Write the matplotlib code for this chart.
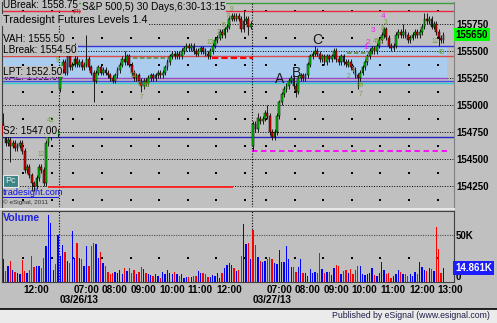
import matplotlib
import matplotlib.pyplot as plt
import numpy as np
from matplotlib.lines import Line2D
from matplotlib.patches import Rectangle

matplotlib.use('Agg')
plt.rcParams['font.family'] = ['Liberation Sans', 'DejaVu Sans']

W_PX, H_PX = 497, 323
BG = '#c0c0c0'

# sessions: 03/25 (partial), 03/26 and 03/27, 5 minute bars
DATES = ['03/25/13', '03/26/13', '03/27/13']
SESSION_START = [11.25, 6.5, 6.5]
SESSION_OPEN = [1548.25, 1551.50, 1546.25]
HOUR_LABELS = [[12], [7, 8, 9, 10, 11, 12], [7, 8, 9, 10, 11, 12, 13]]
DOT_HOURS = [[12, 13], [7, 8, 9, 10, 11, 12, 13], [7, 8, 9, 10, 11, 12, 13]]

CLOSE_0325 = [1547.25, 1546.50, 1546.75, 1546.25, 1546.50, 1546.00, 1546.25, 1546.50,
              1545.75, 1544.00, 1544.25, 1543.50, 1542.75, 1542.50, 1543.25, 1544.25,
              1544.00, 1542.75, 1546.50, 1547.00, 1547.25, 1547.50, 1547.25, 1547.50]
CLOSE_0326 = [1553.25, 1554.00, 1553.00, 1554.50, 1553.50, 1553.75, 1554.25, 1553.75,
              1554.00, 1553.50, 1553.75, 1554.25, 1553.50, 1553.00, 1552.25, 1553.00,
              1553.50, 1553.00, 1553.25, 1553.00, 1552.75, 1552.50, 1552.25, 1552.75,
              1553.25, 1553.75, 1554.25, 1554.00, 1554.50, 1553.75, 1553.00, 1552.50,
              1552.75, 1552.25, 1551.75, 1552.25, 1552.00, 1552.50, 1552.75, 1552.50,
              1552.75, 1553.00, 1552.75, 1553.00, 1553.50, 1554.00, 1554.50, 1554.75,
              1554.50, 1554.75, 1554.50, 1555.00, 1555.25, 1555.50, 1555.25, 1555.50,
              1555.00, 1554.75, 1555.00, 1555.25, 1555.00, 1554.75, 1554.50, 1555.00,
              1555.50, 1556.00, 1556.25, 1556.75, 1556.50, 1557.00, 1557.25, 1558.00,
              1558.25, 1558.00, 1558.25, 1558.00, 1557.00, 1557.75, 1558.00, 1557.25,
              1557.50]
CLOSE_0327 = [1548.25, 1547.75, 1548.75, 1548.50, 1548.75, 1549.25, 1549.00, 1547.50,
              1547.00, 1547.50, 1549.00, 1550.25, 1551.00, 1551.50, 1551.75, 1552.25,
              1552.50, 1551.75, 1551.25, 1552.50, 1552.75, 1552.50, 1552.75, 1553.75,
              1554.50, 1554.75, 1555.00, 1554.75, 1554.25, 1554.50, 1554.00, 1554.50,
              1554.25, 1554.50, 1555.00, 1554.25, 1554.00, 1554.50, 1554.00, 1553.75,
              1554.00, 1553.50, 1553.25, 1552.75, 1552.50, 1553.00, 1553.50, 1554.00,
              1554.50, 1555.00, 1555.25, 1555.00, 1555.50, 1556.00, 1556.50, 1557.00,
              1556.25, 1555.50, 1555.25, 1555.50, 1556.50, 1556.75, 1556.50, 1556.75,
              1556.50, 1556.00, 1556.25, 1556.50, 1556.75, 1556.50, 1556.75, 1557.25,
              1558.00, 1557.75, 1558.00, 1557.25, 1557.50, 1556.75, 1556.25, 1556.00,
              1556.50]
# wick extremes that stick out further than usual (bar index -> price)
HIGH_WICKS = {0: 1549.25, 30: 1555.75, 35: 1556.50, 51: 1555.00, 97: 1558.50, 101: 1558.75,
              107: 1549.25, 111: 1550.00, 131: 1555.50, 160: 1557.25, 168: 1557.50,
              177: 1558.50, 178: 1558.50, 180: 1558.25}
LOW_WICKS = {3: 1544.75, 12: 1542.00, 13: 1542.00, 38: 1550.25, 58: 1551.25, 103: 1556.50,
             105: 1545.75, 113: 1546.75, 123: 1550.75, 149: 1551.50, 183: 1555.50}

# volume in thousands
VOL_0325 = [24, 12, 17, 22, 13, 11, 10, 8, 23, 12, 10, 13, 28, 16, 17, 17, 15, 26, 38, 71,
            63, 13, 19, 50]
VOL_0326 = [28, 39, 32, 22, 20, 54, 25, 41, 25, 24, 17, 38, 17, 38, 41, 40, 25, 32, 20, 17,
            11, 8, 10, 11, 10, 13, 8, 15, 12, 15, 10, 13, 8, 11, 16, 14, 10, 8, 7, 6,
            8, 6, 4, 11, 8, 13, 10, 8, 11, 8, 6, 8, 4, 5, 5, 5, 6, 6, 12, 10,
            10, 8, 5, 5, 7, 6, 10, 4, 10, 15, 18, 20, 18, 15, 12, 13, 28, 62, 40, 41, 24]
VOL_0327 = [55, 39, 27, 22, 21, 22, 24, 27, 24, 20, 19, 34, 21, 21, 38, 24, 16, 16, 11, 16,
            24, 10, 10, 6, 14, 10, 11, 10, 31, 14, 10, 11, 11, 7, 15, 18, 17, 8, 12, 13,
            10, 14, 8, 13, 17, 17, 8, 7, 8, 10, 15, 7, 6, 10, 21, 13, 8, 10, 4, 6,
            8, 13, 11, 8, 9, 6, 8, 6, 11, 9, 21, 16, 13, 12, 15, 14, 12, 58, 35, 10, 14.861]

PRICE_TICKS = [1542.5, 1545.0, 1547.5, 1550.0, 1552.5, 1555.0, 1557.5]
MINOR_PRICES = [1541.25, 1543.75, 1546.25, 1548.75, 1551.25, 1553.75, 1556.25, 1558.75]

LEVEL_NAMES = ['UBreak', 'VAH', 'LBreak', 'VAL', 'LPT', 'S2']
LEVEL_VALUES = [1558.75, 1555.50, 1554.50, 1552.00, 1552.50, 1547.00]
LEVEL_COLORS = ['#e8283c', '#3434d8', '#e04848', '#30d0d0', '#9848c8', '#2424c0']

# setup counts (text, bar, price)
TD_GREEN = [('12', 15.9, 1545.4), ('4', 18.4, 1546.8), ('43', 20.1, 1548.6), ('9', 23.0, 1554.1),
            ('12', 54.5, 1552.7), ('6', 57.1, 1551.9), ('7', 58.3, 1550.7), ('89', 60.0, 1551.8),
            ('13', 86.9, 1555.8), ('3', 90.7, 1556.7), ('5', 92.4, 1557.4), ('8', 94.9, 1558.2),
            ('9', 96.1, 1558.8), ('2', 144.9, 1552.6), ('4', 147.0, 1553.15), ('89', 150.2, 1551.85),
            ('7', 150.0, 1550.95), ('1', 152.4, 1554.2), ('453', 157.5, 1555.85),
            ('8', 159.6, 1557.1), ('3', 160.8, 1557.6), ('12', 181.4, 1555.85), ('48', 184.0, 1554.9)]
TD_MAGENTA = [('1', 152.4, 1555.28), ('2', 153.3, 1555.83), ('3', 155.4, 1556.94), ('4', 159.6, 1558.24)]
WAVE_LABELS = [('A', 116.3, 1552.41), ('B', 123.4, 1552.96), ('C', 131.9, 1556.02)]


def fig_rect(x0, y0, x1, y1):
    return [x0 / W_PX, 1 - y1 / H_PX, (x1 - x0) / W_PX, (y1 - y0) / H_PX]


def fig_text(x, y, s, **kw):
    return fig.text(x / W_PX, 1 - y / H_PX, s, **kw)


closes = np.array(CLOSE_0325 + CLOSE_0326 + CLOSE_0327)
vols = np.array(VOL_0325 + VOL_0326 + VOL_0327, dtype=float)
day_len = [len(CLOSE_0325), len(CLOSE_0326), len(CLOSE_0327)]
starts = np.cumsum([0] + day_len[:-1])
n = len(closes)
x = np.arange(n)

opens = np.r_[closes[0], closes[:-1]]
for k, s in enumerate(starts):
    opens[s] = SESSION_OPEN[k]
highs = np.maximum(opens, closes) + 0.25
lows = np.minimum(opens, closes) - 0.25
for i, v in HIGH_WICKS.items():
    highs[i] = v
for i, v in LOW_WICKS.items():
    lows[i] = v

fig = plt.figure(figsize=(W_PX / 100, H_PX / 100), dpi=100, facecolor=BG)
ax = fig.add_axes(fig_rect(2, 2, 454, 207))
axv = fig.add_axes(fig_rect(2, 211, 454, 282), sharex=ax)

bar_px = 2.38
x_right = (454 - 2) / bar_px - 0.5
band_end = (447 - 2) / bar_px - 0.5
ax.set_xlim(-0.5, x_right)
ax.set_ylim(1557.5 - 183 / 10.8, 1557.5 + 22 / 10.8)
for a in (ax, axv):
    a.set_facecolor(BG)

# value area band and level lines
ax.fill_between([-0.5, band_end], 1552.5, 1555.5, color='#aaccee', lw=0, zorder=1)
ax.axhline(1559.45, color='#3c9c3c', lw=1, zorder=2)
for name, val, col in zip(LEVEL_NAMES, LEVEL_VALUES, LEVEL_COLORS):
    if name == 'LPT':
        ax.hlines(val, -0.5, band_end, color=col, lw=1, zorder=2)
    else:
        ax.axhline(val, color=col, lw=1, zorder=2)
ax.axhline(1552.25, color='#4848e8', lw=1, zorder=2)

for p in PRICE_TICKS:
    ax.axhline(p, color='black', lw=0.7, ls=(0, (1, 1.6)), zorder=1.5)
dot_x = [starts[k] + (h - SESSION_START[k]) * 12 - 0.5 for k in range(3) for h in DOT_HOURS[k]]
gx, gy = np.meshgrid(dot_x, MINOR_PRICES)
ax.scatter(gx.ravel(), gy.ravel(), s=0.8, marker='s', color='black', lw=0, zorder=1.5)

# drawn trade lines
ax.hlines(1542.4, (48 - 2) / bar_px - 0.5, (233 - 2) / bar_px - 0.5, color='#ff1e1e', lw=1.3, zorder=3)
ax.hlines(1545.75, starts[2] - 0.5, band_end, color='#ff00ff', lw=1.3, ls=(0, (3, 2)), zorder=3)
ax.hlines(1554.35, 87.7, starts[2], color='#ff0000', lw=1.5, ls=(0, (3, 1.5)), zorder=3)
ax.hlines(1554.35, 54.5, 70.1, color='#5a8a30', lw=1.1, ls=(0, (3, 1.5)), zorder=3)
ax.hlines(1554.8, 144.5, 155.0, color='#5a8a30', lw=1.1, ls=(0, (3, 1.5)), zorder=3)

for a in (ax, axv):
    for s in starts[1:]:
        a.axvline(s - 0.5, color='black', lw=0.8, ls=(0, (1, 1.5)), zorder=2.5)

# candles
up = closes >= opens
body = np.where(closes == opens, 0.06, closes - opens)
ax.vlines(x, lows, highs, color='black', lw=0.6, zorder=4)
ax.bar(x, body, bottom=opens, width=0.75, color=np.where(up, '#00c400', '#e00000'),
       edgecolor='black', linewidth=0.35, zorder=5)

for s, bx, p in TD_GREEN:
    ax.text(bx, p, s, color='#74a436', fontsize=4.8, ha='center', va='center', zorder=6)
for s, bx, p in TD_MAGENTA:
    ax.text(bx, p, s, color='#f020f0', fontsize=6, ha='center', va='center', zorder=6)
for s, bx, p in WAVE_LABELS:
    ax.text(bx, p, s, color='#1a1a1a', fontsize=10, ha='center', va='center', zorder=6)

# level labels sit just above their lines
for name, val in zip(LEVEL_NAMES, LEVEL_VALUES):
    ax.annotate(f'{name}: {val:.2f}', xy=(0, val), xycoords=('axes fraction', 'data'),
                xytext=(1, 1.0), textcoords='offset points', ha='left', va='bottom',
                fontsize=7.2, zorder=1.8 if name == 'VAL' else 7,
                bbox=dict(boxstyle='square,pad=0.05', fc=BG, ec='none'))

# right price scale
ax.yaxis.tick_right()
ax.set_yticks(PRICE_TICKS)
ax.set_yticklabels([f'{p * 100:.0f}' for p in PRICE_TICKS], fontsize=7, fontweight='bold')
ax.tick_params(axis='y', length=0, pad=1.5)
ax.tick_params(axis='x', bottom=False, labelbottom=False)
ax.annotate(f'{closes[-1] * 100:.0f}', xy=(1, closes[-1]), xycoords=('axes fraction', 'data'),
            xytext=(1.2, 0), textcoords='offset points', ha='left', va='center', fontsize=7,
            fontweight='bold', annotation_clip=False,
            bbox=dict(boxstyle='square,pad=0.15', fc='#00ff00', ec='none'))

for side, col in (('left', '#404040'), ('right', '#808080')):
    ax.spines[side].set_color(col)
for side in ('top', 'bottom'):
    ax.spines[side].set_visible(False)

# volume panel
prev = np.r_[closes[0], closes[:-1]]
axv.bar(x, vols, width=0.55, color=np.where(closes >= prev, '#0000ff', '#ff0000'), lw=0, zorder=3)
axv.set_ylim(0, 75.4)
axv.axhline(50, color='#505050', lw=0.8, ls=(0, (1, 1.2)), zorder=1)
axv.scatter(dot_x, [25] * len(dot_x), s=0.8, marker='s', color='black', lw=0, zorder=1)
axv.yaxis.tick_right()
axv.set_yticks([0, 50])
axv.set_yticklabels(['0', '50K'], fontsize=7, fontweight='bold')
axv.get_yticklabels()[0].set_va('bottom')
axv.tick_params(axis='y', length=0, pad=1.5)
axv.annotate(f'{vols[-1]:.3f}K', xy=(1, vols[-1]), xycoords=('axes fraction', 'data'),
             xytext=(1.0, 0), textcoords='offset points', ha='left', va='center', fontsize=7,
             fontweight='bold', color='white', annotation_clip=False,
             bbox=dict(boxstyle='square,pad=0.2', fc='#1c1cff', ec='none'))
for side in axv.spines:
    axv.spines[side].set_color('#404040')
    axv.spines[side].set_linewidth(0.8)

tick_pos, tick_lab = [], []
for k in range(3):
    for h in HOUR_LABELS[k]:
        tick_pos.append(starts[k] + (h - SESSION_START[k]) * 12 - 0.5)
        tick_lab.append(f'{h:02d}:00')
axv.set_xticks(tick_pos)
axv.set_xticklabels(tick_lab, fontsize=7.2, fontweight='bold', ha='left')
axv.tick_params(axis='x', length=0, pad=2)
for k in (1, 2):
    axv.annotate(DATES[k], xy=(starts[k] - 0.5, 0), xycoords=('data', 'axes fraction'),
                 xytext=(0.5, -13), textcoords='offset points', ha='left', va='center',
                 fontsize=7.2, fontweight='bold')
fig_text(3, 218, 'Volume', color='#2424e0', fontsize=7.6, fontweight='bold', va='center')

# header texts and logos
fig_text(3, 4.5, 'UBreak: 1558.75', fontsize=7.2, va='center',
         bbox=dict(boxstyle='square,pad=0.05', fc=BG, ec='none'))
fig_text(82, 7.5, 'S&P 500,5) 30 Days,6:30-13:15', fontsize=7.3, va='center',
         bbox=dict(boxstyle='square,pad=0.05', fc=BG, ec='none'))
fig_text(73, 12, '(R)', fontsize=4.5, color='#8b1a1a', va='center')
fig_text(3, 20, 'Tradesight Futures Levels 1.4', fontsize=7.8, va='center',
         bbox=dict(boxstyle='square,pad=0.05', fc=BG, ec='none'))

fig.add_artist(Rectangle((3 / W_PX, 1 - 187 / H_PX), 15 / W_PX, 12 / H_PX, fc='#3a8686',
                         ec='#e8e8e8', lw=0.8))
fig_text(10.5, 180.5, 'Pc', fontsize=6.5, color='#e8e8e8', ha='center', va='center')
fig_text(3, 192.5, 'tradesight.com', fontsize=6.6, color='#1010e0', va='center')
fig.add_artist(Line2D([3 / W_PX, 58 / W_PX], [1 - 197 / H_PX] * 2, color='#1010e0', lw=0.7))
fig_text(3, 202, '\u00a9 eSignal, 2011', fontsize=4.6, color='#303030', va='center')

# panel separator and footer
fig.add_artist(Line2D([0, 454 / W_PX], [1 - 208.5 / H_PX] * 2, color='#f0f0f0', lw=1.2))
fig.add_artist(Rectangle((0, 0), 1, 14.5 / H_PX, fc='#ebebeb', ec='none'))
fig.add_artist(Line2D([0, 1], [1 - 308.5 / H_PX] * 2, color='black', lw=1.2))
fig_text(490, 316, 'Published by eSignal (www.esignal.com)', fontsize=6.3, color='#1e1e46',
         ha='right', va='center')

fig.savefig('out.png', dpi=100, facecolor=BG)
